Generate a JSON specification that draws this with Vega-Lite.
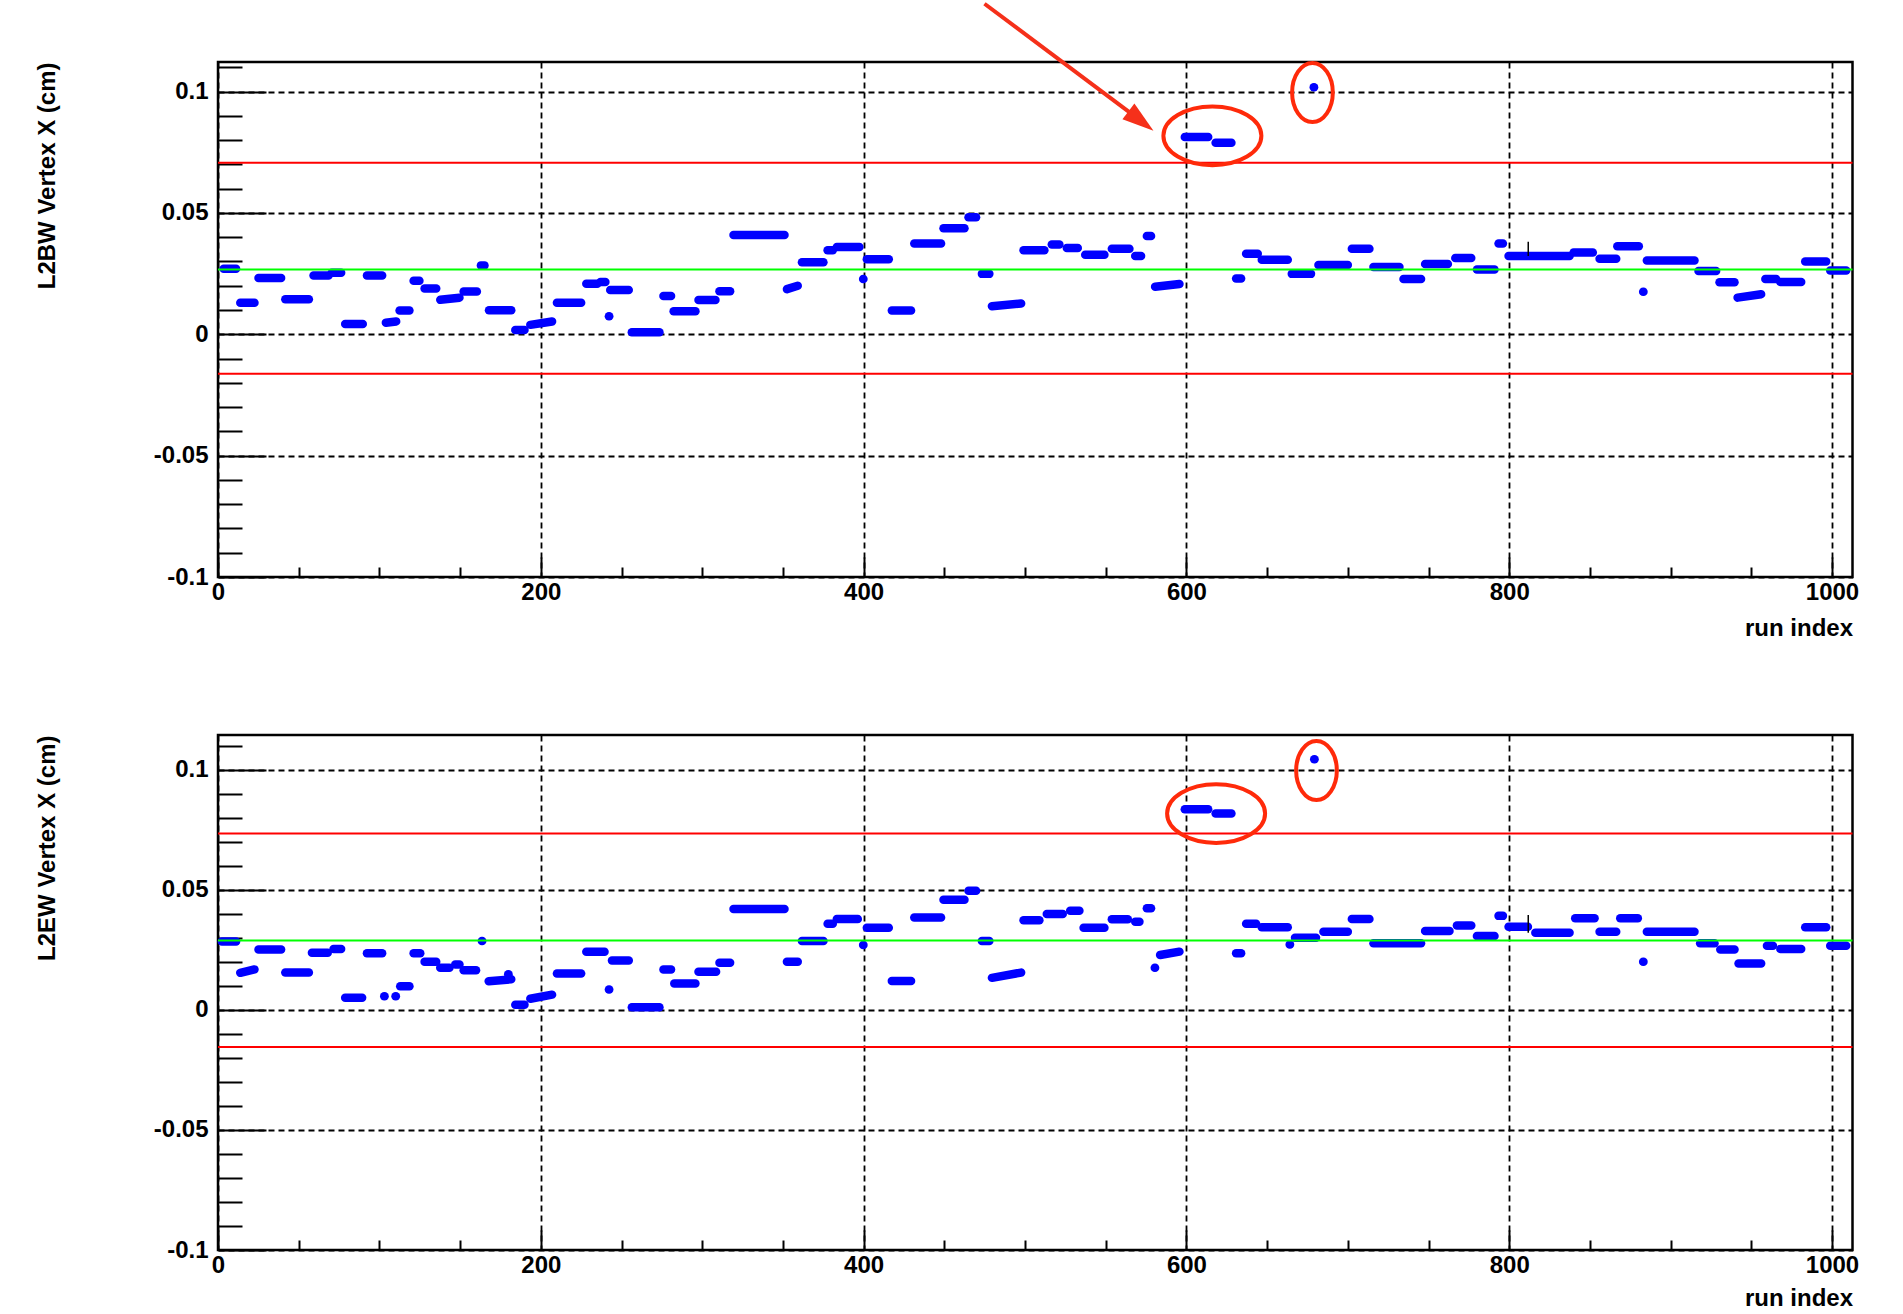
{
  "$schema": "https://vega.github.io/schema/vega-lite/v6.json",
  "background": "white",
  "padding": {"left": 34, "top": 0, "right": 0, "bottom": 0},
  "spacing": 158,
  "bounds": "flush",
  "config": {
    "view": {"stroke": "black", "strokeWidth": 2.5},
    "axis": {
      "labelFont": "Liberation Sans", "labelFontWeight": "bold", "labelFontSize": 24, "labelColor": "black",
      "titleFont": "Liberation Sans", "titleFontWeight": "bold", "titleFontSize": 24, "titleColor": "black",
      "tickColor": "black", "tickWidth": 2, "gridColor": "black", "gridWidth": 1.8, "gridDash": [6, 4],
      "domain": false, "labelFlush": false, "labelOverlap": false, "zindex": 1
    }
  },
  "datasets": {
    "seg": [
      {"p":"BW","x":3.5,"x2":11.2,"v":0.027,"v2":0.027},
      {"p":"BW","x":13.8,"x2":22.6,"v":0.013,"v2":0.013},
      {"p":"BW","x":25.1,"x2":39.1,"v":0.0232,"v2":0.0232},
      {"p":"BW","x":41.7,"x2":56.3,"v":0.0144,"v2":0.0144},
      {"p":"BW","x":59.2,"x2":68.5,"v":0.0242,"v2":0.0242},
      {"p":"BW","x":70.5,"x2":76.3,"v":0.0254,"v2":0.0254},
      {"p":"BW","x":78.8,"x2":89.7,"v":0.0042,"v2":0.0042},
      {"p":"BW","x":92.3,"x2":101.7,"v":0.0242,"v2":0.0242},
      {"p":"BW","x":104,"x2":110.4,"v":0.0048,"v2":0.0053},
      {"p":"BW","x":112.5,"x2":118.6,"v":0.0098,"v2":0.0098},
      {"p":"BW","x":121.2,"x2":124.8,"v":0.0221,"v2":0.0221},
      {"p":"BW","x":128,"x2":135.2,"v":0.0189,"v2":0.0189},
      {"p":"BW","x":137.7,"x2":149.6,"v":0.0142,"v2":0.0151},
      {"p":"BW","x":152.2,"x2":160.4,"v":0.0176,"v2":0.0176},
      {"p":"BW","x":162.9,"x2":165.1,"v":0.0284,"v2":0.0284},
      {"p":"BW","x":167.9,"x2":181.7,"v":0.0099,"v2":0.0099},
      {"p":"BW","x":184.2,"x2":189.9,"v":0.0018,"v2":0.0018},
      {"p":"BW","x":193.5,"x2":207,"v":0.0039,"v2":0.0053},
      {"p":"BW","x":210,"x2":225,"v":0.013,"v2":0.013},
      {"p":"BW","x":228.2,"x2":235,"v":0.0208,"v2":0.0208},
      {"p":"BW","x":237,"x2":240,"v":0.0216,"v2":0.0216},
      {"p":"BW","x":243,"x2":254.5,"v":0.0183,"v2":0.0183},
      {"p":"BW","x":242.2,"x2":242.4,"v":0.0074,"v2":0.0074},
      {"p":"BW","x":256.4,"x2":273.5,"v":0.0008,"v2":0.0008},
      {"p":"BW","x":276,"x2":280.7,"v":0.0158,"v2":0.0158},
      {"p":"BW","x":282.3,"x2":295.8,"v":0.0095,"v2":0.0095},
      {"p":"BW","x":297.7,"x2":308.2,"v":0.0141,"v2":0.0141},
      {"p":"BW","x":310.7,"x2":317.3,"v":0.0177,"v2":0.0177},
      {"p":"BW","x":319.4,"x2":351,"v":0.0409,"v2":0.0409},
      {"p":"BW","x":352.5,"x2":359.2,"v":0.0186,"v2":0.02},
      {"p":"BW","x":361.8,"x2":375.1,"v":0.0297,"v2":0.0297},
      {"p":"BW","x":377.7,"x2":380.9,"v":0.0346,"v2":0.0346},
      {"p":"BW","x":383.4,"x2":397.4,"v":0.036,"v2":0.036},
      {"p":"BW","x":399.7,"x2":399.9,"v":0.0228,"v2":0.0228},
      {"p":"BW","x":402,"x2":415.6,"v":0.0309,"v2":0.0309},
      {"p":"BW","x":417.5,"x2":429.4,"v":0.0098,"v2":0.0098},
      {"p":"BW","x":431.4,"x2":448,"v":0.0374,"v2":0.0374},
      {"p":"BW","x":449.5,"x2":462.5,"v":0.0437,"v2":0.0437},
      {"p":"BW","x":465,"x2":469.7,"v":0.0482,"v2":0.0482},
      {"p":"BW","x":473.3,"x2":477.9,"v":0.0249,"v2":0.0249},
      {"p":"BW","x":479.5,"x2":497.6,"v":0.0116,"v2":0.0127},
      {"p":"BW","x":499.1,"x2":512,"v":0.0346,"v2":0.0346},
      {"p":"BW","x":516.6,"x2":521.3,"v":0.037,"v2":0.037},
      {"p":"BW","x":525.9,"x2":532.7,"v":0.0356,"v2":0.0356},
      {"p":"BW","x":537.3,"x2":549.2,"v":0.0328,"v2":0.0328},
      {"p":"BW","x":553.8,"x2":564.7,"v":0.0353,"v2":0.0353},
      {"p":"BW","x":568.3,"x2":571.9,"v":0.0323,"v2":0.0323},
      {"p":"BW","x":575.5,"x2":578.1,"v":0.0405,"v2":0.0405},
      {"p":"BW","x":580.6,"x2":595.7,"v":0.0196,"v2":0.0207},
      {"p":"BW","x":599,"x2":613.5,"v":0.0813,"v2":0.0813},
      {"p":"BW","x":618.1,"x2":627.9,"v":0.0789,"v2":0.0789},
      {"p":"BW","x":630.8,"x2":633.9,"v":0.023,"v2":0.023},
      {"p":"BW","x":637,"x2":644.2,"v":0.0332,"v2":0.0332},
      {"p":"BW","x":646.7,"x2":662.8,"v":0.0307,"v2":0.0307},
      {"p":"BW","x":665.3,"x2":677.2,"v":0.0249,"v2":0.0249},
      {"p":"BW","x":678.9,"x2":679.1,"v":0.1018,"v2":0.1018},
      {"p":"BW","x":681.8,"x2":700,"v":0.0286,"v2":0.0286},
      {"p":"BW","x":702.5,"x2":713.4,"v":0.0353,"v2":0.0353},
      {"p":"BW","x":715.9,"x2":732,"v":0.0277,"v2":0.0277},
      {"p":"BW","x":734.5,"x2":745.4,"v":0.0228,"v2":0.0228},
      {"p":"BW","x":747.9,"x2":762,"v":0.029,"v2":0.029},
      {"p":"BW","x":766.6,"x2":776.5,"v":0.0314,"v2":0.0314},
      {"p":"BW","x":780,"x2":790.9,"v":0.0267,"v2":0.0267},
      {"p":"BW","x":793.4,"x2":796.1,"v":0.0374,"v2":0.0374},
      {"p":"BW","x":799.6,"x2":837.4,"v":0.0323,"v2":0.0323},
      {"p":"BW","x":839.9,"x2":851.8,"v":0.0337,"v2":0.0337},
      {"p":"BW","x":856,"x2":866.3,"v":0.0311,"v2":0.0311},
      {"p":"BW","x":867,"x2":880.3,"v":0.0363,"v2":0.0363},
      {"p":"BW","x":883,"x2":883.2,"v":0.0175,"v2":0.0175},
      {"p":"BW","x":885.3,"x2":914.8,"v":0.0304,"v2":0.0304},
      {"p":"BW","x":917.3,"x2":928.2,"v":0.0261,"v2":0.0261},
      {"p":"BW","x":930.3,"x2":939.6,"v":0.0214,"v2":0.0214},
      {"p":"BW","x":941.5,"x2":956.1,"v":0.0151,"v2":0.0165},
      {"p":"BW","x":958.7,"x2":965.4,"v":0.0228,"v2":0.0228},
      {"p":"BW","x":968,"x2":980.9,"v":0.0216,"v2":0.0216},
      {"p":"BW","x":983.4,"x2":996.4,"v":0.03,"v2":0.03},
      {"p":"BW","x":998.9,"x2":1008.8,"v":0.0263,"v2":0.0263},

      {"p":"EW","x":2.4,"x2":11.2,"v":0.0284,"v2":0.0284},
      {"p":"EW","x":13.8,"x2":22.6,"v":0.0154,"v2":0.0168},
      {"p":"EW","x":25.1,"x2":39.1,"v":0.0251,"v2":0.0251},
      {"p":"EW","x":41.7,"x2":56.3,"v":0.0155,"v2":0.0155},
      {"p":"EW","x":58.2,"x2":68,"v":0.0237,"v2":0.0237},
      {"p":"EW","x":71.6,"x2":76.3,"v":0.0253,"v2":0.0253},
      {"p":"EW","x":78.8,"x2":89.3,"v":0.005,"v2":0.005},
      {"p":"EW","x":92.3,"x2":101.7,"v":0.0235,"v2":0.0235},
      {"p":"EW","x":103,"x2":103.2,"v":0.0056,"v2":0.0056},
      {"p":"EW","x":110,"x2":110.2,"v":0.0056,"v2":0.0056},
      {"p":"EW","x":112.9,"x2":118.6,"v":0.0098,"v2":0.0098},
      {"p":"EW","x":121.2,"x2":125.3,"v":0.0235,"v2":0.0235},
      {"p":"EW","x":128,"x2":135.2,"v":0.02,"v2":0.02},
      {"p":"EW","x":137.7,"x2":143.4,"v":0.0175,"v2":0.0175},
      {"p":"EW","x":147,"x2":149.6,"v":0.0189,"v2":0.0189},
      {"p":"EW","x":152.2,"x2":159.9,"v":0.0165,"v2":0.0165},
      {"p":"EW","x":163.5,"x2":163.7,"v":0.0286,"v2":0.0286},
      {"p":"EW","x":167.7,"x2":181.7,"v":0.0119,"v2":0.0127},
      {"p":"EW","x":179.8,"x2":180,"v":0.0148,"v2":0.0148},
      {"p":"EW","x":184.2,"x2":189.9,"v":0.0021,"v2":0.0021},
      {"p":"EW","x":193.5,"x2":207,"v":0.0046,"v2":0.0063},
      {"p":"EW","x":210,"x2":225,"v":0.0151,"v2":0.0151},
      {"p":"EW","x":228.2,"x2":239.5,"v":0.0242,"v2":0.0242},
      {"p":"EW","x":242.2,"x2":242.4,"v":0.0084,"v2":0.0084},
      {"p":"EW","x":244.1,"x2":254.5,"v":0.0205,"v2":0.0205},
      {"p":"EW","x":256.4,"x2":273.5,"v":0.0011,"v2":0.0011},
      {"p":"EW","x":276,"x2":280.7,"v":0.0168,"v2":0.0168},
      {"p":"EW","x":282.7,"x2":295.8,"v":0.0109,"v2":0.0109},
      {"p":"EW","x":297.7,"x2":308.6,"v":0.0158,"v2":0.0158},
      {"p":"EW","x":310.7,"x2":317.3,"v":0.0196,"v2":0.0196},
      {"p":"EW","x":319.4,"x2":351,"v":0.042,"v2":0.042},
      {"p":"EW","x":352.5,"x2":359.2,"v":0.02,"v2":0.02},
      {"p":"EW","x":361.8,"x2":375.1,"v":0.0286,"v2":0.0286},
      {"p":"EW","x":377.7,"x2":380.9,"v":0.0358,"v2":0.0358},
      {"p":"EW","x":383.4,"x2":396.4,"v":0.0378,"v2":0.0378},
      {"p":"EW","x":399.7,"x2":399.9,"v":0.027,"v2":0.027},
      {"p":"EW","x":402,"x2":415.6,"v":0.0342,"v2":0.0342},
      {"p":"EW","x":417.5,"x2":429.4,"v":0.012,"v2":0.012},
      {"p":"EW","x":431.4,"x2":448,"v":0.0384,"v2":0.0384},
      {"p":"EW","x":449.5,"x2":462.5,"v":0.0458,"v2":0.0458},
      {"p":"EW","x":465,"x2":469.7,"v":0.0496,"v2":0.0496},
      {"p":"EW","x":473.3,"x2":477.9,"v":0.0286,"v2":0.0286},
      {"p":"EW","x":479.5,"x2":497.6,"v":0.0133,"v2":0.0155},
      {"p":"EW","x":499.1,"x2":508.9,"v":0.0373,"v2":0.0373},
      {"p":"EW","x":513.5,"x2":523.4,"v":0.0399,"v2":0.0399},
      {"p":"EW","x":528,"x2":533.7,"v":0.0412,"v2":0.0412},
      {"p":"EW","x":536.3,"x2":549.2,"v":0.0342,"v2":0.0342},
      {"p":"EW","x":553.8,"x2":563.7,"v":0.0377,"v2":0.0377},
      {"p":"EW","x":568.3,"x2":570.9,"v":0.0367,"v2":0.0367},
      {"p":"EW","x":575.5,"x2":578.1,"v":0.0423,"v2":0.0423},
      {"p":"EW","x":580.4,"x2":580.6,"v":0.0175,"v2":0.0175},
      {"p":"EW","x":583.7,"x2":595.7,"v":0.0228,"v2":0.0242},
      {"p":"EW","x":599,"x2":613.5,"v":0.0835,"v2":0.0835},
      {"p":"EW","x":618.1,"x2":627.9,"v":0.0817,"v2":0.0817},
      {"p":"EW","x":630.8,"x2":633.9,"v":0.0235,"v2":0.0235},
      {"p":"EW","x":637,"x2":643.2,"v":0.0358,"v2":0.0358},
      {"p":"EW","x":646.7,"x2":662.8,"v":0.0344,"v2":0.0344},
      {"p":"EW","x":664,"x2":664.2,"v":0.0272,"v2":0.0272},
      {"p":"EW","x":667.3,"x2":680.3,"v":0.03,"v2":0.03},
      {"p":"EW","x":679.2,"x2":679.4,"v":0.1043,"v2":0.1043},
      {"p":"EW","x":684.9,"x2":700,"v":0.0325,"v2":0.0325},
      {"p":"EW","x":702.5,"x2":713.4,"v":0.0378,"v2":0.0378},
      {"p":"EW","x":715.9,"x2":745.4,"v":0.0277,"v2":0.0277},
      {"p":"EW","x":747.9,"x2":763,"v":0.0328,"v2":0.0328},
      {"p":"EW","x":767.6,"x2":776.5,"v":0.0351,"v2":0.0351},
      {"p":"EW","x":780,"x2":790.9,"v":0.0307,"v2":0.0307},
      {"p":"EW","x":793.4,"x2":796.1,"v":0.0391,"v2":0.0391},
      {"p":"EW","x":799.6,"x2":811.6,"v":0.0346,"v2":0.0346},
      {"p":"EW","x":816.2,"x2":837.4,"v":0.0321,"v2":0.0321},
      {"p":"EW","x":840.9,"x2":852.9,"v":0.0381,"v2":0.0381},
      {"p":"EW","x":856,"x2":866.3,"v":0.0325,"v2":0.0325},
      {"p":"EW","x":868.8,"x2":879.7,"v":0.0381,"v2":0.0381},
      {"p":"EW","x":883,"x2":883.2,"v":0.02,"v2":0.02},
      {"p":"EW","x":885.3,"x2":914.8,"v":0.0325,"v2":0.0325},
      {"p":"EW","x":918.3,"x2":927.2,"v":0.0277,"v2":0.0277},
      {"p":"EW","x":930.8,"x2":939.6,"v":0.0251,"v2":0.0251},
      {"p":"EW","x":942.1,"x2":956.1,"v":0.0193,"v2":0.0193},
      {"p":"EW","x":959.7,"x2":963.4,"v":0.0267,"v2":0.0267},
      {"p":"EW","x":968,"x2":980.9,"v":0.0253,"v2":0.0253},
      {"p":"EW","x":983.4,"x2":996.4,"v":0.0344,"v2":0.0344},
      {"p":"EW","x":998.9,"x2":1008.8,"v":0.0267,"v2":0.0267}
    ],
    "err": [
      {"p":"BW","x":811.8,"v":0.0323,"v2":0.0381},
      {"p":"EW","x":811.8,"v":0.0321,"v2":0.0395}
    ],
    "limits": [
      {"p":"BW","kind":"upper","v":0.0707},
      {"p":"BW","kind":"lower","v":-0.0163},
      {"p":"EW","kind":"upper","v":0.0734},
      {"p":"EW","kind":"lower","v":-0.0155}
    ],
    "means": [
      {"p":"BW","v":0.0267},
      {"p":"EW","v":0.0288}
    ],
    "bigRing": [
      {"p":"BW","x":616.1,"v":0.0818},
      {"p":"EW","x":618.4,"v":0.0817}
    ],
    "smallRing": [
      {"p":"BW","x":678.1,"v":0.0996},
      {"p":"EW","x":680.6,"v":0.0996}
    ],
    "arrow": [
      {"x":474.9,"v":0.1362,"x2":569.8,"v2":0.089}
    ],
    "arrowHead": [
      {"x":579.6,"v":0.0839}
    ]
  },
  "vconcat": [
    {
      "width": 1634.5,
      "height": 515,
      "encoding": {
        "y": {
          "field": "v", "type": "quantitative",
          "scale": {"domain": [-0.1, 0.1122], "nice": false, "zero": false},
          "axis": {
            "values": [-0.1,-0.09,-0.08,-0.07,-0.06,-0.05,-0.04,-0.03,-0.02,-0.01,0,0.01,0.02,0.03,0.04,0.05,0.06,0.07,0.08,0.09,0.1,0.11],
            "gridOpacity": {"condition": {"test": "abs(datum.value*20 - round(datum.value*20)) < 0.001", "value": 1}, "value": 0},
            "tickSize": {"condition": {"test": "abs(datum.value*20 - round(datum.value*20)) < 0.001", "value": -48}, "value": -24},
            "labelExpr": "abs(datum.value*20 - round(datum.value*20)) < 0.001 ? (abs(datum.value) < 0.0001 ? '0' : (datum.value < 0 ? '-' : '') + format(abs(datum.value), '.2~f')) : ''",
            "labelPadding": 58,
            "title": "L2BW Vertex X (cm)", "titleAnchor": "end", "titleX": -158.5, "titleBaseline": "bottom", "titleAngle": 270
          }
        }
      },
      "layer": [
        {
          "data": {"name": "seg"},
          "transform": [{"filter": "datum.p === 'BW'"}],
          "mark": {"type": "rule", "color": "#0000ff", "strokeWidth": 8.5, "strokeCap": "round"},
          "encoding": {
            "x": {
              "field": "x", "type": "quantitative",
              "scale": {"domain": [0, 1012.7], "nice": false, "zero": false},
              "axis": {
                "values": [0,50,100,150,200,250,300,350,400,450,500,550,600,650,700,750,800,850,900,950,1000],
                "gridOpacity": {"condition": {"test": "datum.value % 200 === 0", "value": 1}, "value": 0},
                "tickSize": {"condition": {"test": "datum.value % 200 === 0", "value": -20}, "value": -10},
                "labelExpr": "datum.value % 200 === 0 ? format(datum.value, 'd') : ''",
                "labelPadding": 23,
                "title": "run index", "titleAnchor": "end", "titleY": 58, "titleBaseline": "alphabetic"
              }
            },
            "x2": {"field": "x2"}, "y2": {"field": "v2"}
          }
        },
        {
          "data": {"name": "err"},
          "transform": [{"filter": "datum.p === 'BW'"}],
          "mark": {"type": "rule", "color": "black", "strokeWidth": 1.5},
          "encoding": {"x": {"field": "x", "type": "quantitative"}, "y2": {"field": "v2"}}
        },
        {
          "data": {"name": "limits"},
          "transform": [{"filter": "datum.p === 'BW'"}],
          "mark": {"type": "rule", "color": "#ff0000", "strokeWidth": 2}
        },
        {
          "data": {"name": "means"},
          "transform": [{"filter": "datum.p === 'BW'"}],
          "mark": {"type": "rule", "color": "#00ff00", "strokeWidth": 2}
        },
        {
          "data": {"name": "bigRing"},
          "transform": [{"filter": "datum.p === 'BW'"}],
          "mark": {"type": "point", "filled": false, "stroke": "#ff2a0a", "strokeWidth": 4, "opacity": 1, "size": 9604,
                   "shape": "M -1 0 A 1 0.6 0 1 0 1 0 A 1 0.6 0 1 0 -1 0 Z"},
          "encoding": {"x": {"field": "x", "type": "quantitative"}}
        },
        {
          "data": {"name": "smallRing"},
          "transform": [{"filter": "datum.p === 'BW'"}],
          "mark": {"type": "point", "filled": false, "stroke": "#ff2a0a", "strokeWidth": 4, "opacity": 1, "size": 3481,
                   "shape": "M 0 -1 A 0.69 1 0 1 0 0 1 A 0.69 1 0 1 0 0 -1 Z"},
          "encoding": {"x": {"field": "x", "type": "quantitative"}}
        },
        {
          "data": {"name": "arrow"},
          "mark": {"type": "rule", "color": "#f5301a", "strokeWidth": 4},
          "encoding": {"x": {"field": "x", "type": "quantitative"}, "x2": {"field": "x2"}, "y2": {"field": "v2"}}
        },
        {
          "data": {"name": "arrowHead"},
          "mark": {"type": "point", "filled": true, "color": "#f5301a", "opacity": 1, "size": 1000, "angle": 127.6,
                   "shape": "M 0 0 L 0.62 2 L -0.62 2 Z"},
          "encoding": {"x": {"field": "x", "type": "quantitative"}}
        }
      ]
    },
    {
      "width": 1634.5,
      "height": 515,
      "encoding": {
        "y": {
          "field": "v", "type": "quantitative",
          "scale": {"domain": [-0.1, 0.1144], "nice": false, "zero": false},
          "axis": {
            "values": [-0.1,-0.09,-0.08,-0.07,-0.06,-0.05,-0.04,-0.03,-0.02,-0.01,0,0.01,0.02,0.03,0.04,0.05,0.06,0.07,0.08,0.09,0.1,0.11],
            "gridOpacity": {"condition": {"test": "abs(datum.value*20 - round(datum.value*20)) < 0.001", "value": 1}, "value": 0},
            "tickSize": {"condition": {"test": "abs(datum.value*20 - round(datum.value*20)) < 0.001", "value": -48}, "value": -24},
            "labelExpr": "abs(datum.value*20 - round(datum.value*20)) < 0.001 ? (abs(datum.value) < 0.0001 ? '0' : (datum.value < 0 ? '-' : '') + format(abs(datum.value), '.2~f')) : ''",
            "labelPadding": 58,
            "title": "L2EW Vertex X (cm)", "titleAnchor": "end", "titleX": -158.5, "titleBaseline": "bottom", "titleAngle": 270
          }
        }
      },
      "layer": [
        {
          "data": {"name": "seg"},
          "transform": [{"filter": "datum.p === 'EW'"}],
          "mark": {"type": "rule", "color": "#0000ff", "strokeWidth": 8.5, "strokeCap": "round"},
          "encoding": {
            "x": {
              "field": "x", "type": "quantitative",
              "scale": {"domain": [0, 1012.7], "nice": false, "zero": false},
              "axis": {
                "values": [0,50,100,150,200,250,300,350,400,450,500,550,600,650,700,750,800,850,900,950,1000],
                "gridOpacity": {"condition": {"test": "datum.value % 200 === 0", "value": 1}, "value": 0},
                "tickSize": {"condition": {"test": "datum.value % 200 === 0", "value": -20}, "value": -10},
                "labelExpr": "datum.value % 200 === 0 ? format(datum.value, 'd') : ''",
                "labelPadding": 23,
                "title": "run index", "titleAnchor": "end", "titleY": 55, "titleBaseline": "alphabetic"
              }
            },
            "x2": {"field": "x2"}, "y2": {"field": "v2"}
          }
        },
        {
          "data": {"name": "err"},
          "transform": [{"filter": "datum.p === 'EW'"}],
          "mark": {"type": "rule", "color": "black", "strokeWidth": 1.5},
          "encoding": {"x": {"field": "x", "type": "quantitative"}, "y2": {"field": "v2"}}
        },
        {
          "data": {"name": "limits"},
          "transform": [{"filter": "datum.p === 'EW'"}],
          "mark": {"type": "rule", "color": "#ff0000", "strokeWidth": 2}
        },
        {
          "data": {"name": "means"},
          "transform": [{"filter": "datum.p === 'EW'"}],
          "mark": {"type": "rule", "color": "#00ff00", "strokeWidth": 2}
        },
        {
          "data": {"name": "bigRing"},
          "transform": [{"filter": "datum.p === 'EW'"}],
          "mark": {"type": "point", "filled": false, "stroke": "#ff2a0a", "strokeWidth": 4, "opacity": 1, "size": 9604,
                   "shape": "M -1 0 A 1 0.6 0 1 0 1 0 A 1 0.6 0 1 0 -1 0 Z"},
          "encoding": {"x": {"field": "x", "type": "quantitative"}}
        },
        {
          "data": {"name": "smallRing"},
          "transform": [{"filter": "datum.p === 'EW'"}],
          "mark": {"type": "point", "filled": false, "stroke": "#ff2a0a", "strokeWidth": 4, "opacity": 1, "size": 3481,
                   "shape": "M 0 -1 A 0.69 1 0 1 0 0 1 A 0.69 1 0 1 0 0 -1 Z"},
          "encoding": {"x": {"field": "x", "type": "quantitative"}}
        }
      ]
    }
  ]
}
